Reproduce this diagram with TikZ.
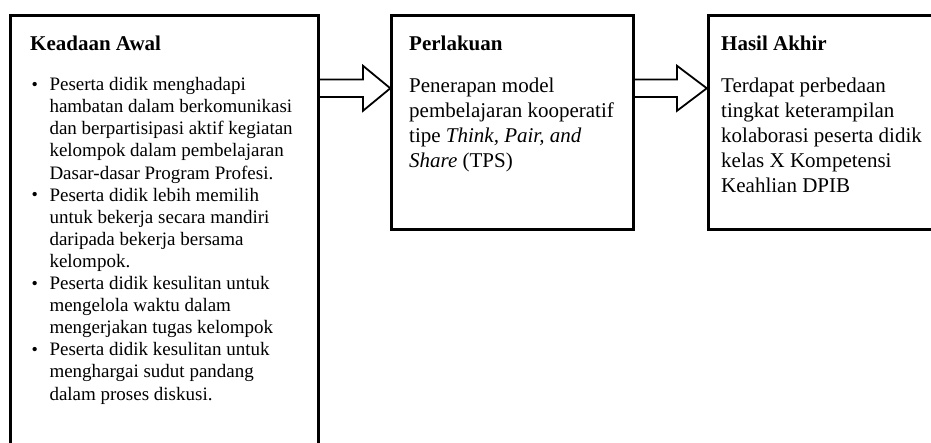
\documentclass[tikz,border=0pt]{standalone}
\usepackage{fontspec}
\setmainfont{Liberation Serif}
\usetikzlibrary{calc}
\newcommand{\bul}{\makebox[17.8pt][l]{\fontsize{18}{18}\selectfont\raisebox{0.3pt}{•}}}
\begin{document}
\begin{tikzpicture}[x=1pt,y=1pt,
 box/.style={draw=black, line width=3pt, rectangle, outer sep=0pt, inner sep=0pt},
 title/.style={anchor=base west, inner sep=0pt, font=\fontsize{21}{25}\selectfont\bfseries},
 bodytext/.style={anchor=base west, inner sep=0pt, font=\fontsize{21}{25}\selectfont},
 listtext/.style={anchor=base west, inner sep=0pt, font=\fontsize{19}{22.1}\selectfont},
 blockarrow/.style={draw=black, line width=1.8pt, line join=miter}]
\useasboundingbox (0,0) rectangle (931,-443);
\clip (0,0) rectangle (931,-443);
% boxes
\node[box, minimum width=308pt, minimum height=444pt] (b1) at (164,-238) {};
\node[box, minimum width=241.5pt, minimum height=214pt] (b2) at (512.25,-123) {};
\node[box, minimum width=252pt, minimum height=214.5pt] (b3) at (834,-122.75) {};
% titles
\node[title] (t1) at (30,-51) {Keadaan Awal};
\node[title] (t2) at (409,-51) {Perlakuan};
\node[title] (t3) at (721,-51) {Hasil Akhir};
% body texts
\node[listtext] (l1) at (31.5,-90.7) {\begin{tabular}[t]{@{}l@{}l@{}}
\bul & Peserta didik menghadapi\\
 & hambatan dalam berkomunikasi\\
 & dan berpartisipasi aktif kegiatan\\
 & kelompok dalam pembelajaran\\
 & Dasar-dasar Program Profesi.\\
\bul & Peserta didik lebih memilih\\
 & untuk bekerja secara mandiri\\
 & daripada bekerja bersama\\
 & kelompok.\\
\bul & Peserta didik kesulitan untuk\\
 & mengelola waktu dalam\\
 & mengerjakan tugas kelompok\\
\bul & Peserta didik kesulitan untuk\\
 & menghargai sudut pandang\\
 & dalam proses diskusi.
\end{tabular}};
\node[bodytext] (p2) at (409,-92.3) {\begin{tabular}[t]{@{}l@{}}
Penerapan model\\
pembelajaran kooperatif\\
tipe \textit{Think, Pair, and}\\
\textit{Share} (TPS)
\end{tabular}};
\node[bodytext] (p3) at (721,-92.3) {\begin{tabular}[t]{@{}l@{}}
Terdapat perbedaan\\
tingkat keterampilan\\
kolaborasi peserta didik\\
kelas X Kompetensi\\
Keahlian DPIB
\end{tabular}};
% block arrows
\coordinate (ay) at (0,-88.3);
\draw[blockarrow] ($(b1.east|-ay)+(0,8.7)$) -- ($(b2.west|-ay)+(-28.5,8.7)$) -- ($(b2.west|-ay)+(-28.5,22.5)$) -- ($(b2.west|-ay)+(-1.2,0)$) -- ($(b2.west|-ay)+(-28.5,-22.5)$) -- ($(b2.west|-ay)+(-28.5,-8.7)$) -- ($(b1.east|-ay)+(0,-8.7)$);
\draw[blockarrow] ($(b2.east|-ay)+(0,8.7)$) -- ($(b3.west|-ay)+(-31,8.7)$) -- ($(b3.west|-ay)+(-31,22.5)$) -- ($(b3.west|-ay)+(-1.2,0)$) -- ($(b3.west|-ay)+(-31,-22.5)$) -- ($(b3.west|-ay)+(-31,-8.7)$) -- ($(b2.east|-ay)+(0,-8.7)$);
\end{tikzpicture}
\end{document}
